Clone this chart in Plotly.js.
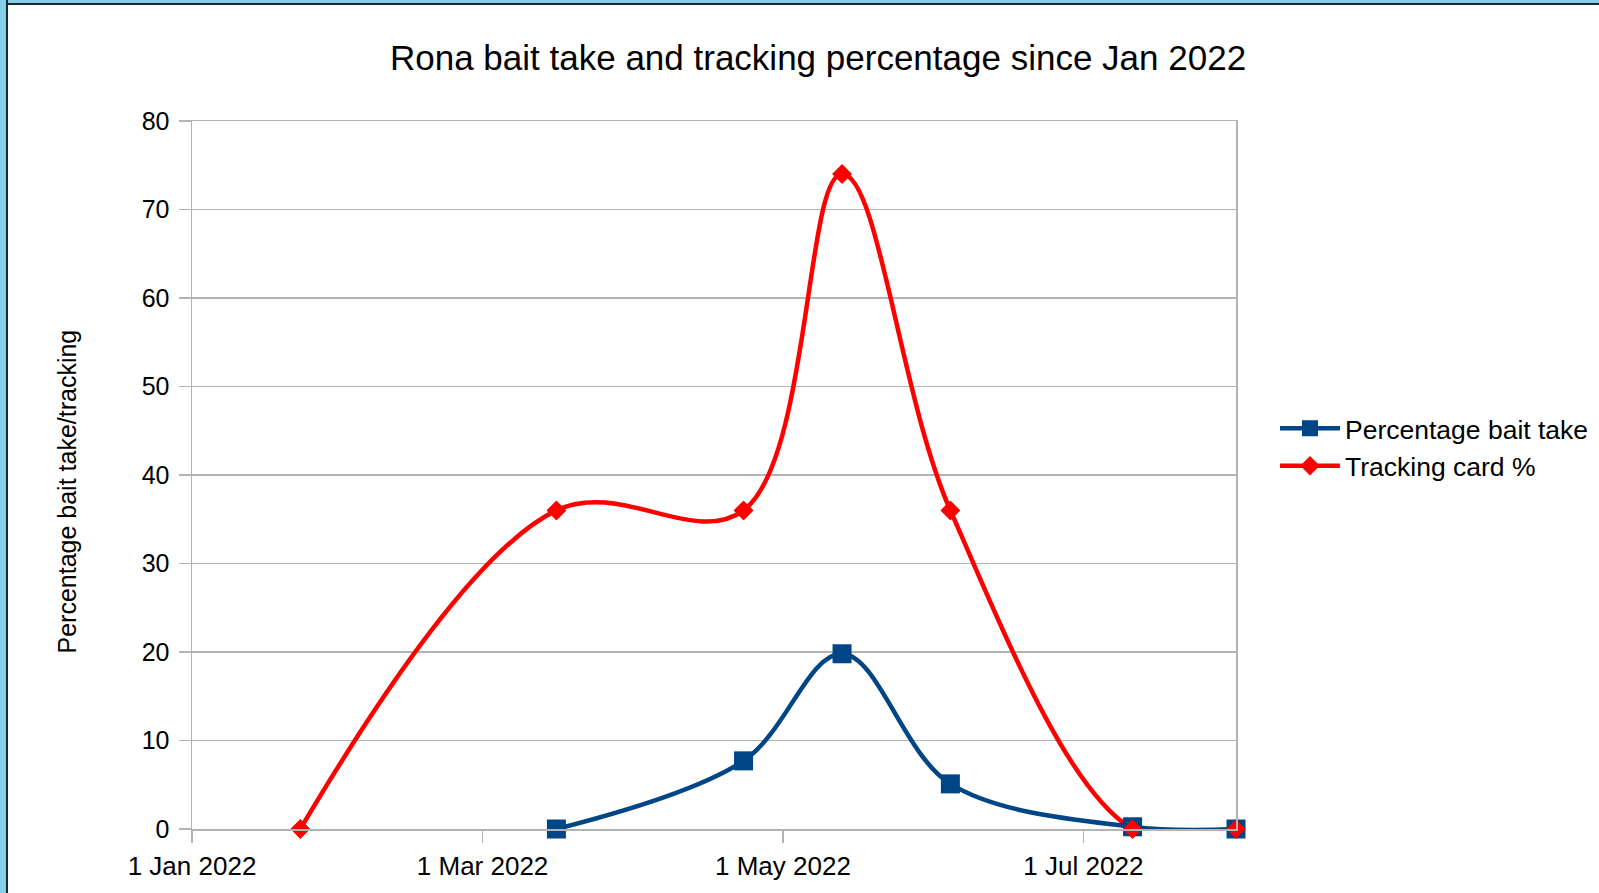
<!DOCTYPE html>
<html>
<head>
<meta charset="utf-8">
<script src="https://cdn.plot.ly/plotly-3.0.1.min.js"></script>
<style>
  html, body { margin: 0; padding: 0; background: #ffffff; overflow: hidden; }
  #chart { position: absolute; left: 0; top: 0; width: 1599px; height: 893px; }
  #frameLeft { position: absolute; left: 0; top: 0; width: 6px; height: 893px; background: #87ceeb; border-right: 2px solid #1a2a33; }
  #frameTop { position: absolute; left: 0; top: 0; width: 1599px; height: 3px; background: #87ceeb; border-bottom: 2px solid #1a2a33; }
</style>
</head>
<body>
<div id="chart"></div>
<div id="frameTop"></div>
<div id="frameLeft"></div>
<script>
// Data
const trackingDates = ['2022-01-23', '2022-03-16', '2022-04-23', '2022-05-13', '2022-06-04', '2022-07-11', '2022-08-01'];
const trackingValues = [0, 36, 36, 74, 36, 0, 0];

const baitDates = ['2022-03-16', '2022-04-23', '2022-05-13', '2022-06-04', '2022-07-11', '2022-08-01'];
const baitValues = [0, 7.7, 19.8, 5.1, 0.25, 0];

const seriesNames = ['Percentage bait take', 'Tracking card %'];
const chartTitle = 'Rona bait take and tracking percentage since Jan 2022';
const yAxisTitle = 'Percentage bait take/tracking';

const BLUE = '#004586';
const RED = '#ff0000';
const GRID = '#b3b3b3';
const FONT = 'Liberation Sans, Arial, sans-serif';

const traces = [
  {
    type: 'scatter', mode: 'lines+markers', name: seriesNames[1],
    x: trackingDates, y: trackingValues,
    line: {color: RED, width: 4.5, shape: 'spline', smoothing: 1.05},
    marker: {symbol: 'diamond', size: 15, color: RED},
    cliponaxis: false,
    hoverinfo: 'skip'
  },
  {
    type: 'scatter', mode: 'lines+markers', name: seriesNames[0],
    x: baitDates, y: baitValues,
    line: {color: BLUE, width: 4.5, shape: 'spline', smoothing: 1},
    marker: {symbol: 'square', size: 19, color: BLUE},
    cliponaxis: false,
    hoverinfo: 'skip'
  },
  {
    type: 'scatter', mode: 'markers', showlegend: false,
    x: trackingDates, y: trackingValues,
    marker: {symbol: 'diamond', size: 15, color: RED},
    cliponaxis: false,
    hoverinfo: 'skip'
  }
];

const layout = {
  width: 1599, height: 893,
  margin: {l: 192, r: 363, t: 121, b: 64, pad: 0},
  paper_bgcolor: '#ffffff', plot_bgcolor: '#ffffff',
  font: {family: FONT, color: '#000000', size: 26},
  title: {
    text: chartTitle,
    font: {family: FONT, size: 35, color: '#000000'},
    xref: 'container', x: 0.5116, xanchor: 'center',
    yref: 'container', y: 1 - 58/893, yanchor: 'middle'
  },
  xaxis: {
    type: 'date',
    range: ['2022-01-01', '2022-08-01'],
    tick0: '2022-01-01', dtick: 'M2',
    tickformat: '%-d %b %Y',
    ticks: 'outside', ticklen: 12, tickcolor: GRID, tickwidth: 1.5,
    showgrid: false, zeroline: false,
    showline: true, linecolor: GRID, linewidth: 1.5, mirror: true,
    tickfont: {family: FONT, size: 26, color: '#000000'},
    ticklabelstandoff: 1,
    automargin: false
  },
  yaxis: {
    range: [0, 80], dtick: 10, tick0: 0,
    ticks: 'outside', ticklen: 12, tickcolor: GRID, tickwidth: 1.5,
    showgrid: true, gridcolor: GRID, gridwidth: 1.5,
    zeroline: false,
    showline: true, linecolor: GRID, linewidth: 1.5, mirror: true,
    tickfont: {family: FONT, size: 25, color: '#000000'},
    ticklabelstandoff: 4,
    automargin: false
  },
  annotations: [{
    text: yAxisTitle, textangle: -90,
    xref: 'paper', yref: 'paper',
    x: -0.1195, y: 0.477, xanchor: 'center', yanchor: 'middle',
    showarrow: false,
    font: {family: FONT, size: 25, color: '#000000'}
  }],
  legend: {
    xref: 'container', yref: 'container',
    x: 1275/1599, xanchor: 'left', y: 1 - 447/893, yanchor: 'middle',
    traceorder: 'reversed',
    itemwidth: 60,
    font: {family: FONT, size: 26.5, color: '#000000'},
    bgcolor: 'rgba(0,0,0,0)', borderwidth: 0,
    tracegroupgap: 0
  },
  showlegend: true
};

Plotly.newPlot('chart', traces, layout, {displayModeBar: false, staticPlot: true});
</script>
</body>
</html>
